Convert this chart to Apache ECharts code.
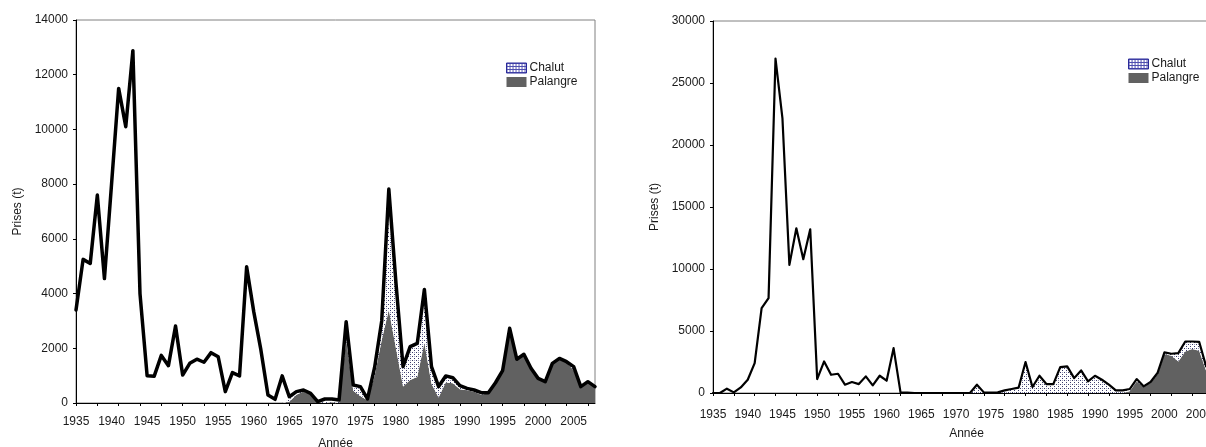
<!DOCTYPE html>
<html>
<head>
<meta charset="utf-8">
<script src="https://cdn.jsdelivr.net/npm/echarts@6/dist/echarts.min.js"></script>
<style>
html,body{margin:0;padding:0;background:#fff;overflow:hidden;width:1206px;height:447px;}
#c{width:1230px;height:447px;}
</style>
</head>
<body>
<div id="c"></div>
<script>
// ---- Data ----
const years = [];
for (let y = 1935; y <= 2008; y++) years.push(String(y));

// Left panel (0-14000)
const leftTotal = [3400,5250,5100,7600,4550,8000,11500,10100,12880,4000,
  1000,980,1740,1365,2815,1020,1450,1600,1490,1840,
  1690,415,1110,990,4980,3340,1950,290,135,990,
  230,415,475,355,50,146,150,110,2970,660,
  600,150,1300,3000,7820,4400,1330,2060,2180,4150,
  1330,600,990,925,635,535,475,375,375,740,
  1180,2730,1600,1780,1270,900,780,1450,1630,1510,
  1330,600,780,600];
const leftPalangre = [0,0,0,0,0,0,0,0,0,0,
  0,0,0,0,0,0,0,0,0,0,
  0,0,0,0,0,0,0,0,0,0,
  50,300,420,330,30,0,30,0,2300,450,
  250,100,1000,2300,3400,2000,600,840,950,2200,
  700,200,750,720,500,470,410,300,360,720,
  1150,2700,1560,1740,1230,860,750,1420,1600,1480,
  1200,560,750,580];
const leftChalut = [0,0,0,0,0,0,0,0,0,0,
  0,0,0,0,0,0,0,0,0,0,
  0,0,0,0,0,0,0,0,0,0,
  80,60,40,20,10,50,60,50,650,200,
  330,50,250,600,3300,2200,650,1150,1150,1500,
  600,380,220,180,120,60,60,70,15,20,
  30,30,40,40,40,40,30,30,30,30,
  130,40,30,20];

// Right panel (0-30000)
const rightTotal = [0,0,350,50,450,1070,2415,6840,7650,26970,
  22140,10330,13280,10790,13200,1125,2545,1470,1550,670,
  885,720,1340,615,1390,990,3620,50,30,0,
  0,0,0,0,0,0,0,0,670,50,
  30,50,210,320,430,2495,480,1390,720,720,
  2090,2145,1200,1820,935,1390,1070,670,210,210,
  320,1125,535,885,1610,3270,3165,3220,4155,4155,
  4130,2145,2000,2200];
const rightPalangre = [0,0,0,0,0,0,0,0,0,0,
  0,0,0,0,0,0,0,0,0,0,
  0,0,0,0,0,0,0,0,0,0,
  0,0,0,0,0,0,0,0,0,0,
  0,0,0,0,0,0,0,0,0,0,
  0,0,0,0,0,0,0,0,0,0,
  150,935,500,800,1500,3150,3000,2540,3355,3540,
  3400,1800,1600,1700];
const rightChalut = [0,0,0,0,0,0,0,0,0,0,
  0,0,0,0,0,0,0,0,0,0,
  0,0,0,0,0,0,0,0,0,0,
  0,0,0,0,0,0,0,0,670,50,
  30,50,210,320,430,2495,480,1390,720,720,
  2090,2145,1200,1820,935,1390,1070,670,210,210,
  170,190,35,85,110,120,165,680,800,615,
  730,345,400,500];

const xTitle = 'Année';
const yTitle = 'Prises (t)';

// ---- Styles ----
function dotPattern() {
  const c = document.createElement('canvas');
  c.width = 4; c.height = 4;
  const g = c.getContext('2d');
  g.fillStyle = '#ffffff'; g.fillRect(0, 0, 4, 4);
  g.fillStyle = '#3a3a6a';
  g.fillRect(0, 0, 1, 1); g.fillRect(2, 2, 1, 1);
  g.fillStyle = '#9a9ab8';
  g.fillRect(2, 0, 1, 1);
  return { image: c, repeat: 'repeat' };
}
function gridPattern() {
  const c = document.createElement('canvas');
  c.width = 3; c.height = 3;
  const g = c.getContext('2d');
  g.fillStyle = '#ffffff'; g.fillRect(0, 0, 3, 3);
  g.fillStyle = '#5050b0';
  g.fillRect(0, 0, 3, 1); g.fillRect(0, 0, 1, 3);
  return { image: c, repeat: 'repeat' };
}
const chalutFill = dotPattern();
const legendChalut = gridPattern();
const palangreColor = '#616161';
const font = 'Liberation Sans, Arial, sans-serif';
const txt = '#1a1a1a';

function xAxisDef(gridIndex, margin, nameGap) {
  return {
    type: 'category', gridIndex, data: years, boundaryGap: false,
    name: xTitle, nameLocation: 'middle', nameGap,
    nameTextStyle: { fontFamily: font, fontSize: 12, color: txt },
    axisLine: { lineStyle: { color: '#000', width: 1 } },
    axisTick: { interval: 2, length: 3, lineStyle: { color: '#000' } },
    axisLabel: { interval: 4, margin, fontFamily: font, fontSize: 12, color: txt },
    splitLine: { show: false }
  };
}
function yAxisDef(gridIndex, max, interval, nameGap) {
  return {
    type: 'value', gridIndex, min: 0, max, interval,
    name: yTitle, nameLocation: 'middle', nameGap,
    nameTextStyle: { fontFamily: font, fontSize: 12, color: txt },
    axisLine: { show: true, lineStyle: { color: '#000', width: 1 } },
    axisTick: { show: true, length: 3, lineStyle: { color: '#000' } },
    axisLabel: { margin: 8, fontFamily: font, fontSize: 12, color: txt, formatter: v => String(v) },
    splitLine: { show: false }
  };
}
function areaSeries(name, data, idx, fill) {
  return {
    name, type: 'line', xAxisIndex: idx, yAxisIndex: idx, stack: 's' + idx,
    data, symbol: 'none', silent: true,
    lineStyle: { width: 0 },
    itemStyle: { color: name === 'Palangre' ? palangreColor : '#5050b0' },
    areaStyle: { color: fill, opacity: 1 },
    z: 2
  };
}
function totalSeries(data, idx, width) {
  return {
    name: 'Total', type: 'line', xAxisIndex: idx, yAxisIndex: idx,
    data, symbol: 'none', silent: true,
    lineStyle: { color: '#000', width, join: 'round', cap: 'round' },
    itemStyle: { color: '#000' },
    z: 5
  };
}
function legendDef(left, top) {
  return {
    left, top, orient: 'vertical', itemWidth: 20, itemHeight: 10, itemGap: 2,
    selectedMode: false,
    textStyle: { fontFamily: font, fontSize: 12, color: txt, padding: [0, 0, 0, -2] },
    data: [
      { name: 'Chalut', icon: 'rect', itemStyle: { color: legendChalut, borderColor: '#2a2a9a', borderWidth: 1 } },
      { name: 'Palangre', icon: 'rect', itemStyle: { color: palangreColor, borderWidth: 0 } }
    ]
  };
}

const chart = echarts.init(document.getElementById('c'));
chart.setOption({
  backgroundColor: '#ffffff',
  animation: false,
  grid: [
    { left: 76, right: 1230 - 595, top: 20, bottom: 447 - 403, outerBoundsMode: 'none', containLabel: false,
      show: true, borderColor: '#808080', borderWidth: 1, backgroundColor: '#fff' },
    { left: 713, right: 1230 - 1220, top: 21, bottom: 447 - 393, outerBoundsMode: 'none', containLabel: false,
      show: true, borderColor: '#808080', borderWidth: 1, backgroundColor: '#fff' }
  ],
  legend: [legendDef(501, 57), legendDef(1123, 53)],
  xAxis: [xAxisDef(0, 13, 35), xAxisDef(1, 16, 35)],
  yAxis: [yAxisDef(0, 14000, 2000, 52), yAxisDef(1, 30000, 5000, 52)],
  series: [
    areaSeries('Palangre', leftPalangre, 0, palangreColor),
    areaSeries('Chalut', leftChalut, 0, chalutFill),
    totalSeries(leftTotal, 0, 3.5),
    areaSeries('Palangre', rightPalangre, 1, palangreColor),
    areaSeries('Chalut', rightChalut, 1, chalutFill),
    totalSeries(rightTotal, 1, 2.2)
  ]
});
</script>
</body>
</html>
